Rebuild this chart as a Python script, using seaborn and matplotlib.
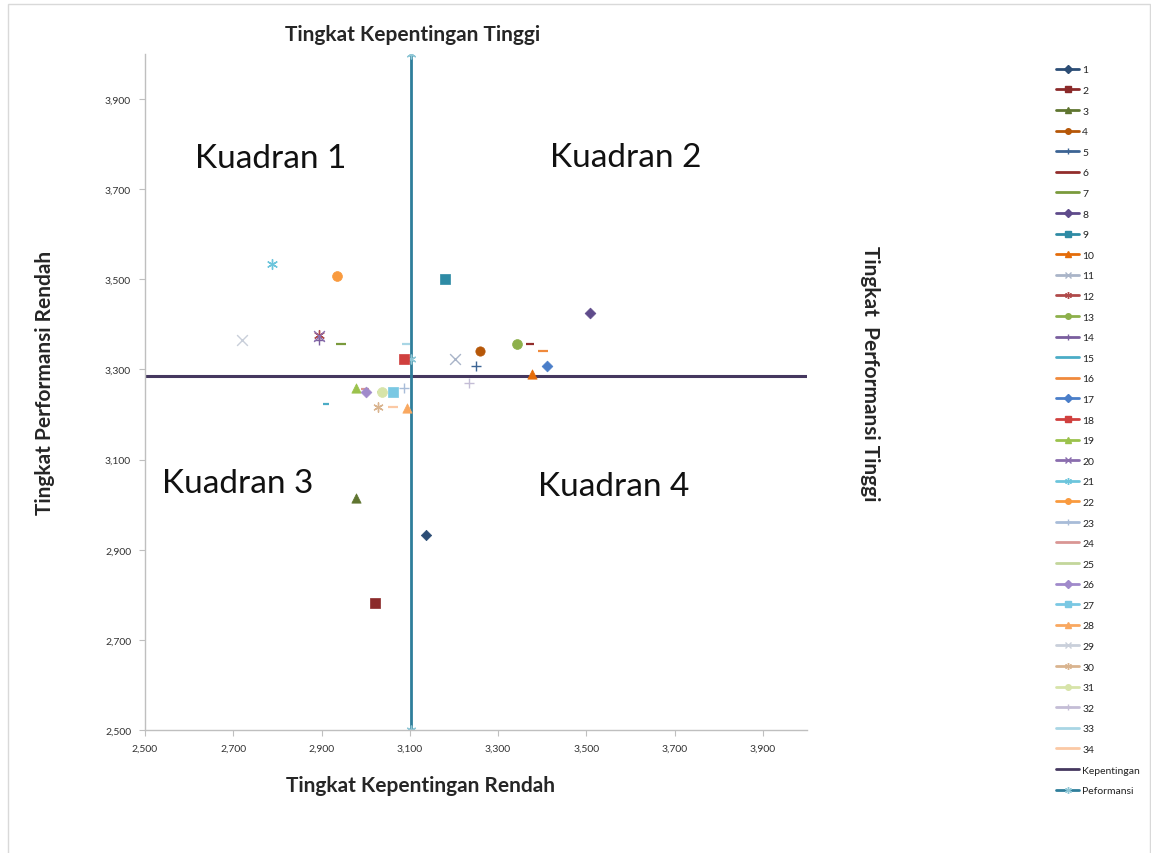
import matplotlib
matplotlib.use("Agg")
import matplotlib.pyplot as plt
import seaborn as sns
import pandas as pd
from matplotlib.lines import Line2D
from matplotlib.patches import Rectangle
from matplotlib.ticker import FuncFormatter

# series data
series = [str(i) for i in range(1, 35)]
kepentingan_x = [3.136, 3.021, 2.979, 3.260, 3.251, 3.373, 2.945, 3.509, 3.179, 3.376,
                 3.203, 2.895, 3.343, 2.895, 2.909, 3.401, 3.410, 3.087, 2.979, 2.895,
                 2.788, 2.936, 3.087, 2.999, 3.037, 3.001, 3.062, 3.094, 2.720, 3.028,
                 3.037, 3.235, 3.091, 3.062]
performansi_y = [2.932, 2.781, 3.014, 3.342, 3.307, 3.357, 3.357, 3.426, 3.501, 3.289,
                 3.324, 3.377, 3.357, 3.366, 3.224, 3.342, 3.307, 3.324, 3.258, 3.375,
                 3.535, 3.508, 3.258, 3.257, 3.249, 3.249, 3.249, 3.214, 3.366, 3.216,
                 3.249, 3.269, 3.357, 3.216]

# reference lines
kep_line_x = [2.5, 4.0]
kep_line_y = [3.285, 3.285]
perf_line_x = [3.103, 3.103, 3.103]
perf_line_y = [2.5, 3.324, 4.0]

tick_vals = [2.5, 2.7, 2.9, 3.1, 3.3, 3.5, 3.7, 3.9]

colors = ["#2C4D75", "#8B2A2A", "#5F7530", "#B65708", "#3C6494", "#922D2B", "#7A9A3C",
          "#5F4B8B", "#2E8BA5", "#E46C0A", "#A9B4C8", "#B04A4A", "#8DB04B", "#7A5E9E",
          "#4BACC6", "#F08A3C", "#4A7EC9", "#D0403E", "#9BC24C", "#8A6DAE", "#6CC5DC",
          "#F99A3E", "#A8BCD8", "#D99694", "#C3D69B", "#A08ACB", "#7AC8E3", "#F9A860",
          "#C9CFDA", "#D9B48F", "#D7E4A9", "#C4BDD6", "#A9D6E5", "#FBC9A5"]
markers = ["D", "s", "^", "o", "+", "_", "_", "D", "s", "^",
           "x", (6, 2, 0), "o", "+", "_", "_", "D", "s", "^", "x",
           (6, 2, 0), "o", "+", "_", "_", "D", "s", "^", "x", (6, 2, 0),
           "o", "+", "_", "_"]
sizes = [28, 45, 45, 45, 50, 30, 60, 30, 55, 45,
         60, 50, 50, 50, 20, 60, 30, 55, 45, 60,
         50, 50, 50, 30, 60, 30, 55, 45, 60, 45,
         50, 50, 30, 60]

sns.set_style("white")
plt.rcParams["font.family"] = ["Lato", "DejaVu Sans"]

fig = plt.figure(figsize=(11.51, 8.54), dpi=100)
ax = fig.add_axes([145 / 1151, 1 - 731 / 854, (807 - 145) / 1151, (731 - 55) / 854])

ax.plot(kep_line_x, kep_line_y, color="#45385F", lw=2.2, zorder=1)
ax.plot(perf_line_x, perf_line_y, color="#2F7E9B", lw=2, zorder=1,
        marker=(6, 2, 0), markersize=7, markeredgecolor="#8FC7D6", markeredgewidth=1)

df = pd.DataFrame({"seri": series, "x": kepentingan_x, "y": performansi_y})
for i, row in df.iterrows():
    m = markers[i]
    line_marker = m in ["+", "_", "x"] or isinstance(m, tuple)
    if line_marker:
        sns.scatterplot(x=[row["x"]], y=[row["y"]], marker=m, s=sizes[i], color=colors[i],
                        linewidth=1.6 if m == "_" else 1.0, ax=ax, legend=False, zorder=3)
    else:
        sns.scatterplot(x=[row["x"]], y=[row["y"]], marker=m, s=sizes[i], color=colors[i],
                        edgecolor=colors[i], linewidth=0.5, ax=ax, legend=False, zorder=3)

ax.set_xlim(2.5, 4.0)
ax.set_ylim(2.5, 4.0)
fmt = FuncFormatter(lambda v, p: f"{v:.3f}".replace(".", ","))
ax.set_xticks(tick_vals)
ax.set_yticks(tick_vals)
ax.xaxis.set_major_formatter(fmt)
ax.yaxis.set_major_formatter(fmt)
ax.tick_params(axis="both", labelsize=7.5, labelcolor="#333333", length=4, direction="out",
               bottom=True, left=True, pad=6, color="#BFBFBF")
for s in ["top", "right"]:
    ax.spines[s].set_visible(False)
for s in ["left", "bottom"]:
    ax.spines[s].set_color("#BFBFBF")
    ax.spines[s].set_linewidth(1)
ax.set_xlabel("")
ax.set_ylabel("")

# quadrant labels
ax.text(2.785, 3.769, "Kuadran 1", fontsize=24, ha="center", va="center", color="#111111")
ax.text(3.59, 3.771, "Kuadran 2", fontsize=24, ha="center", va="center", color="#111111")
ax.text(2.709, 3.047, "Kuadran 3", fontsize=24, ha="center", va="center", color="#111111")
ax.text(3.563, 3.042, "Kuadran 4", fontsize=24, ha="center", va="center", color="#111111")

# axis captions
fig.text(413 / 1151, 1 - 35 / 854, "Tingkat Kepentingan Tinggi", fontsize=15,
         fontweight="bold", ha="center", va="center")
fig.text(420 / 1151, 1 - 786 / 854, "Tingkat Kepentingan Rendah", fontsize=15,
         fontweight="bold", ha="center", va="center")
fig.text(45 / 1151, 1 - 383 / 854, "Tingkat Performansi Rendah", fontsize=15,
         fontweight="bold", ha="center", va="center", rotation=90)
fig.text(870 / 1151, 1 - 374 / 854, "Tingkat  Performansi Tinggi", fontsize=15,
         fontweight="bold", ha="center", va="center", rotation=-90)

# legend
handles = []
for i in range(len(series)):
    m = markers[i]
    ms = 4 if m in ["D", "o", "^", "s"] else 5
    if m == "_":
        m = None
    handles.append(Line2D([], [], color=colors[i], lw=2, marker=m, markersize=ms,
                          markeredgewidth=1))
handles.append(Line2D([], [], color="#45385F", lw=2))
handles.append(Line2D([], [], color="#2F7E9B", lw=2, marker=(6, 2, 0), markersize=5,
                      markeredgecolor="#8FC7D6"))
labels = series + ["Kepentingan", "Peformansi"]
leg = fig.legend(handles, labels, loc="upper left", bbox_to_anchor=(1052 / 1151, 1 - 62 / 854),
                 frameon=False, fontsize=7.5, handlelength=2.2, handletextpad=0.3,
                 labelspacing=1.085, borderaxespad=0)
for t in leg.get_texts():
    t.set_color("#222222")

fig.patches.append(Rectangle((8 / 1151, -0.01), 1 - 9 / 1151, 1 - 5 / 854 + 0.01,
                             transform=fig.transFigure, fill=False, edgecolor="#D9D9D9",
                             lw=1))

fig.savefig("out.png", dpi=100)
